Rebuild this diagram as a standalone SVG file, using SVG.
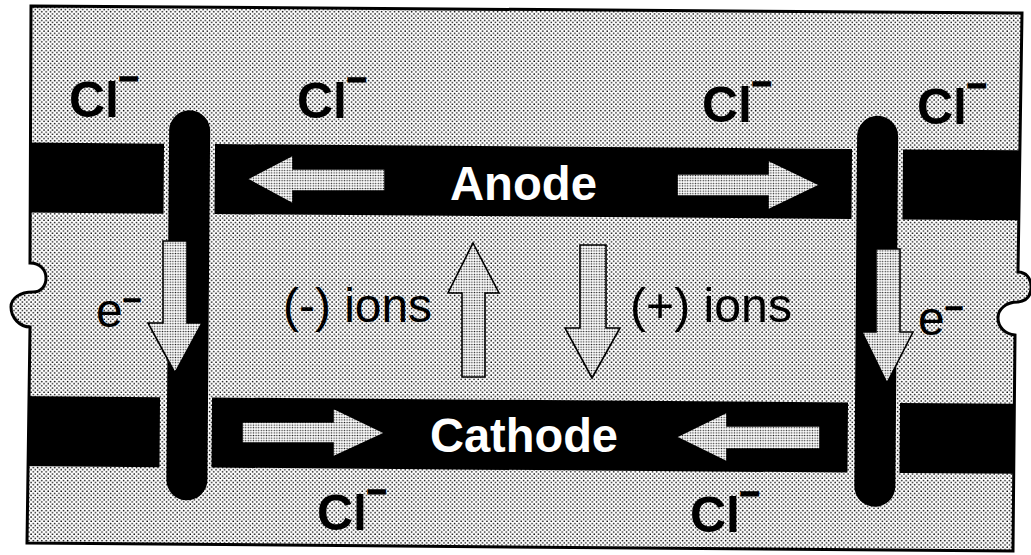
<svg xmlns="http://www.w3.org/2000/svg" width="1031" height="555" viewBox="0 0 1031 555">
<style>
.cl{font-family:"Liberation Sans",Arial,sans-serif;font-weight:bold;font-size:50px;fill:#000}
.sup{stroke:#000;stroke-width:1.6}
.lbl{font-family:"Liberation Sans",Arial,sans-serif;font-size:48px;fill:#000}
.elec{font-family:"Liberation Sans",Arial,sans-serif;font-weight:bold;font-size:48px;fill:#fff}
.band{fill:#000}
.arrow{fill:url(#fine);stroke:#000;stroke-width:1.6;stroke-linejoin:miter}
</style>
<defs>
<pattern id="dots" width="4.3" height="4.3" patternUnits="userSpaceOnUse">
<rect width="4.3" height="4.3" fill="#fff"/>
<circle cx="1" cy="1" r="0.8" fill="#000"/>
<circle cx="3.15" cy="3.15" r="0.8" fill="#000"/>
</pattern>
<pattern id="fine" width="2.6" height="2.6" patternUnits="userSpaceOnUse">
<rect width="2.6" height="2.6" fill="#fff"/>
<circle cx="1.3" cy="1.3" r="0.75" fill="#222"/>
</pattern>
<clipPath id="frameClip">
<path d="M31,6 L1022,13 L1018,272 C1026,272 1031,278 1031,287 C1031,296 1026,301 1018,302 C1005,302 998,310 998,318 C998,327 1005,334 1015,335 L1013,551 L27,543 L30,327 C20,327 11,318 11,307 C11,298 20,292 33,292 C41,292 46,286 46,278 C46,270 40,263 30,263 Z"/>
</clipPath>
</defs>
<rect width="1031" height="555" fill="#fff"/>
<g id="frame">
<path d="M31,6 L1022,13 L1018,272 C1026,272 1031,278 1031,287 C1031,296 1026,301 1018,302 C1005,302 998,310 998,318 C998,327 1005,334 1015,335 L1013,551 L27,543 L30,327 C20,327 11,318 11,307 C11,298 20,292 33,292 C41,292 46,286 46,278 C46,270 40,263 30,263 Z" fill="url(#dots)"/>
</g>
<g clip-path="url(#frameClip)">
<g transform="rotate(0.45 526 277)">
<g id="anode">
<rect class="band" x="0" y="146.5" width="163" height="70"/>
<rect class="band" x="214" y="146.5" width="637" height="70"/>
<rect class="band" x="902" y="146.5" width="140" height="70"/>
</g>
<g id="cathode">
<rect class="band" x="0" y="400" width="161" height="70"/>
<rect class="band" x="213" y="400" width="636" height="70"/>
<rect class="band" x="901" y="400" width="140" height="70"/>
</g>
<g id="left-wire"><rect class="band" x="168" y="113" width="41" height="390" rx="20.5"/></g>
<g id="right-wire"><rect class="band" x="856" y="113" width="41" height="391" rx="20.5"/></g>
</g>
</g>
<path d="M31,6 L1022,13 L1018,272 C1026,272 1031,278 1031,287 C1031,296 1026,301 1018,302 C1005,302 998,310 998,318 C998,327 1005,334 1015,335 L1013,551 L27,543 L30,327 C20,327 11,318 11,307 C11,298 20,292 33,292 C41,292 46,286 46,278 C46,270 40,263 30,263 Z" fill="none" stroke="#000" stroke-width="3"/>
<g id="connectors">
<polygon class="arrow" points="247,179 293,155 293,169 385,169 385,191 293,191 293,204"/>
<polygon class="arrow" points="820,185 768,160 768,174 677,174 677,196 768,196 768,210"/>
<polygon class="arrow" points="385,433 333,408 333,422 242,422 242,443 333,443 333,457"/>
<polygon class="arrow" points="676,437 727,412 727,426 820,426 820,449 727,449 727,462"/>
<polygon class="arrow" points="473,243 499,293 485,293 485,377 462,377 462,293 448,293"/>
<polygon class="arrow" points="592,378 620,328 606,328 606,245 580,245 580,328 565,328"/>
<polygon class="arrow" points="175,373 202,323 187,323 187,241 163,241 163,323 148,323"/>
<polygon class="arrow" points="887,383 913,332 900,332 900,249 876,249 876,332 862,332"/>
</g>
<g id="anode-label"><text class="elec" x="450" y="200" textLength="147" lengthAdjust="spacingAndGlyphs">Anode</text></g>
<g id="cathode-label"><text class="elec" x="430" y="452" textLength="188" lengthAdjust="spacingAndGlyphs">Cathode</text></g>
<g id="neg-ions"><text class="lbl" x="283" y="322" textLength="149" lengthAdjust="spacingAndGlyphs">(-) ions</text></g>
<g id="pos-ions"><text class="lbl" x="630" y="322" textLength="162" lengthAdjust="spacingAndGlyphs">(+) ions</text></g>
<g id="e-left"><text class="lbl" x="96" y="327">e<tspan class="sup" font-size="32" dy="-16">−</tspan></text></g>
<g id="e-right"><text class="lbl" x="918" y="335">e<tspan class="sup" font-size="32" dy="-16">−</tspan></text></g>
<g id="cl-1"><text class="cl" x="69" y="117">Cl<tspan class="sup" font-size="34" dy="-27">−</tspan></text></g>
<g id="cl-2"><text class="cl" x="297" y="118">Cl<tspan class="sup" font-size="34" dy="-27">−</tspan></text></g>
<g id="cl-3"><text class="cl" x="702" y="122">Cl<tspan class="sup" font-size="34" dy="-27">−</tspan></text></g>
<g id="cl-4"><text class="cl" x="917" y="124">Cl<tspan class="sup" font-size="34" dy="-27">−</tspan></text></g>
<g id="cl-5"><text class="cl" x="317" y="530">Cl<tspan class="sup" font-size="34" dy="-27">−</tspan></text></g>
<g id="cl-6"><text class="cl" x="690" y="532">Cl<tspan class="sup" font-size="34" dy="-27">−</tspan></text></g>
</svg>
